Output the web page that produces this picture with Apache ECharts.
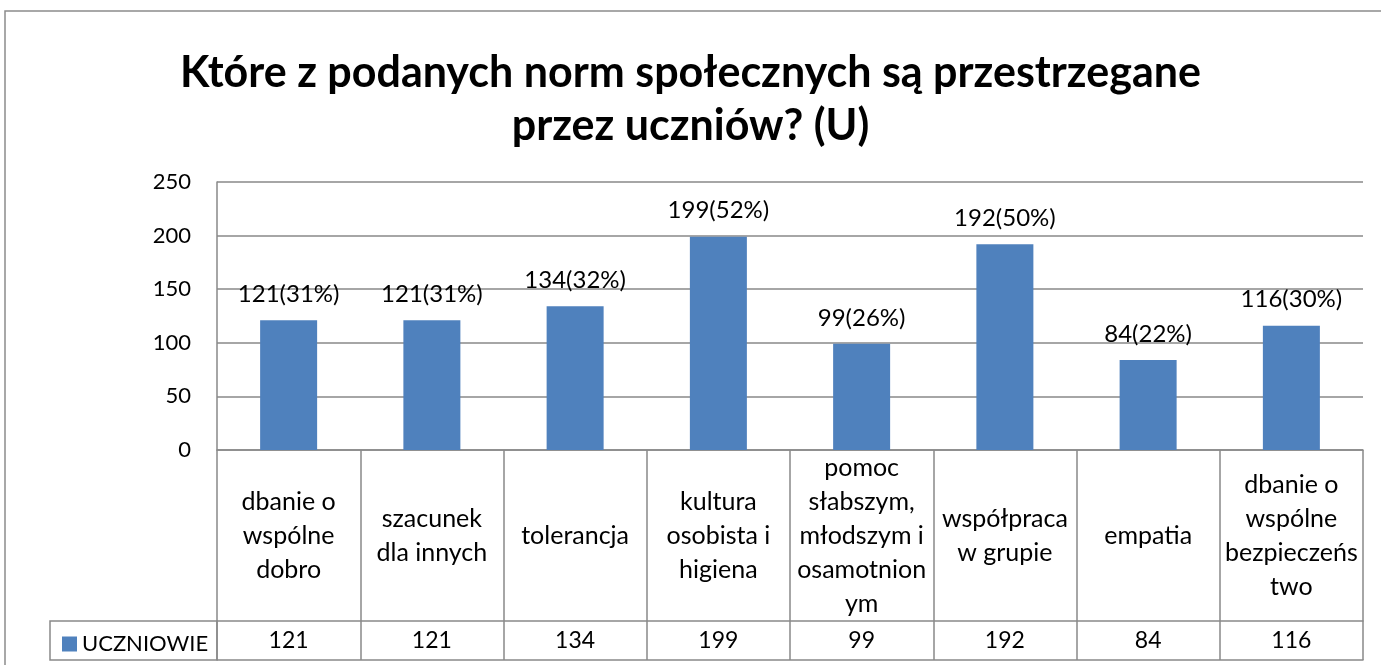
<!DOCTYPE html>
<html>
<head>
<meta charset="utf-8">
<script src="https://cdn.jsdelivr.net/npm/echarts@6/dist/echarts.min.js"></script>
<style>
html,body{margin:0;padding:0;background:#fff;}
#chart{width:1381px;height:665px;}
</style>
</head>
<body>
<div id="chart"></div>
<script>
// ---- data ----
const titleText = 'Które z podanych norm społecznych są przestrzegane\nprzez uczniów? (U)';
const seriesName = 'UCZNIOWIE';
const categories = [
  'dbanie o\nwspólne\ndobro',
  'szacunek\ndla innych',
  'tolerancja',
  'kultura\nosobista i\nhigiena',
  'pomoc\nsłabszym,\nmłodszym i\nosamotnion\nym',
  'współpraca\nw grupie',
  'empatia',
  'dbanie o\nwspólne\nbezpieczeńs\ntwo'
];
const values = [121, 121, 134, 199, 99, 192, 84, 116];
const percents = [31, 31, 32, 52, 26, 50, 22, 30];
const yTicks = { min: 0, max: 250, interval: 50 };

// ---- layout ----
const FONT = 'Lato';
const LINE = '#898989';
const gridLeft = 217, gridRight = 18, gridTop = 182, gridBottom = 215;
const catRowH = 171, valRowH = 39;
const axisY = 665 - gridBottom;
const tableLeft = 50;

const chart = echarts.init(document.getElementById('chart'), null, { renderer: 'canvas' });
chart.setOption({
  backgroundColor: '#fff',
  animation: false,
  textStyle: { fontFamily: FONT },
  title: {
    text: titleText,
    left: 'center',
    top: 42,
    textStyle: { fontFamily: FONT, fontSize: 43, fontWeight: 'bold', color: '#000', lineHeight: 53 }
  },
  legend: {
    data: [seriesName],
    left: 62,
    top: axisY + catRowH + 12,
    icon: 'rect',
    itemWidth: 15,
    itemHeight: 15,
    itemGap: 5,
    padding: 0,
    textStyle: { fontFamily: FONT, fontSize: 22, color: '#000' }
  },
  grid: { left: gridLeft, right: gridRight, top: gridTop, bottom: gridBottom, containLabel: false },
  xAxis: [
    {
      type: 'category',
      data: categories,
      position: 'bottom',
      axisLine: { show: true, lineStyle: { color: LINE, width: 1.5 } },
      axisTick: { show: true, interval: 0, length: catRowH, lineStyle: { color: LINE, width: 1.5 } },
      axisLabel: { interval: 0, margin: catRowH / 2, verticalAlign: 'middle', align: 'center',
        fontFamily: FONT, fontSize: 25, lineHeight: 34, color: '#000' }
    },
    {
      type: 'category',
      data: categories,
      position: 'bottom',
      offset: catRowH,
      axisLine: { show: true, lineStyle: { color: LINE, width: 1.5 } },
      axisTick: { show: true, interval: 0, length: valRowH, lineStyle: { color: LINE, width: 1.5 } },
      axisLabel: { interval: 0, margin: valRowH / 2, verticalAlign: 'middle', align: 'center',
        fontFamily: FONT, fontSize: 23, color: '#000',
        formatter: (v, i) => String(values[i]) }
    },
    {
      type: 'category',
      data: categories,
      position: 'bottom',
      offset: catRowH + valRowH,
      axisLine: { show: true, lineStyle: { color: LINE, width: 1.5 } },
      axisTick: { show: false },
      axisLabel: { show: false }
    }
  ],
  yAxis: {
    type: 'value',
    min: yTicks.min, max: yTicks.max, interval: yTicks.interval,
    axisLine: { show: true, lineStyle: { color: LINE, width: 1.5 } },
    axisTick: { show: false },
    splitLine: { show: true, lineStyle: { color: LINE, width: 1.5 } },
    axisLabel: { fontFamily: FONT, fontSize: 22, color: '#000', margin: 26 }
  },
  series: [{
    name: seriesName,
    type: 'bar',
    xAxisIndex: 0,
    data: values,
    barWidth: 57,
    itemStyle: { color: '#4f81bd' },
    label: {
      show: true, position: 'top', distance: 14,
      fontFamily: FONT, fontSize: 24, color: '#000',
      formatter: p => p.value + '(' + percents[p.dataIndex] + '%)'
    }
  }],
  graphic: [
    { type: 'rect', silent: true, z: -1,
      shape: { x: 5, y: 11, width: 1500, height: 800 },
      style: { fill: 'none', stroke: '#8c8c8c', lineWidth: 1.5 } },
    { type: 'rect', silent: true,
      shape: { x: tableLeft, y: axisY + catRowH, width: gridLeft - tableLeft, height: valRowH },
      style: { fill: 'none', stroke: LINE, lineWidth: 1.5 } }
  ]
});
</script>
</body>
</html>
